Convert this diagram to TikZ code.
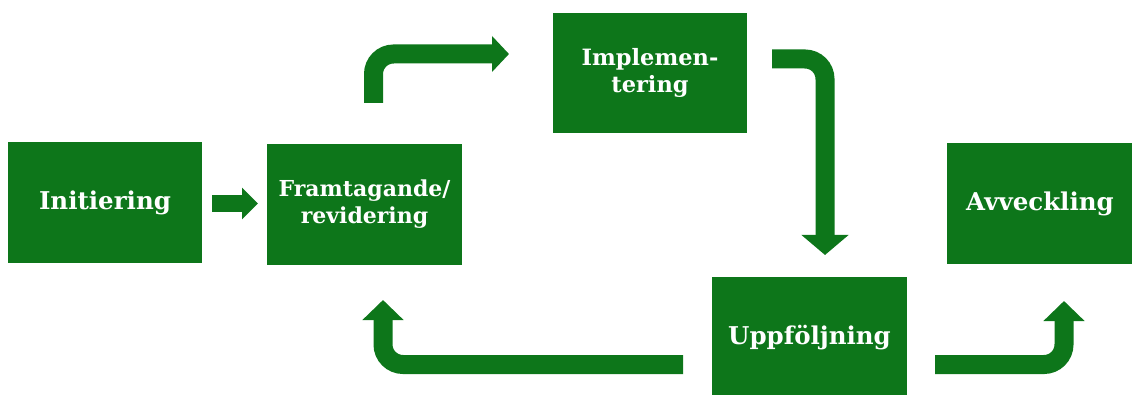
\documentclass[tikz,border=0pt]{standalone}
\usepackage{fontspec}
\setmainfont{DejaVu Serif}
\usetikzlibrary{arrows.meta,positioning,calc}
\definecolor{fgreen}{RGB}{13,118,26}
\begin{document}
\begin{tikzpicture}[x=1pt,y=-1pt]
  \tikzset{
    phase/.style={draw=none,fill=fgreen,rectangle,minimum width=195pt,minimum height=121pt,inner sep=0pt,outer sep=0pt,text=white,align=center,font=\fontsize{24.5}{28}\selectfont\bfseries},
    flow/.style={draw=fgreen,line width=19pt,rounded corners=20pt,-{Triangle[width=40pt,length=20pt]}}
  }
  \useasboundingbox (0,0) rectangle (1132,395);

%%%%%%%%%%%%%%%%%%%%%%%%%%
  \node[phase,minimum width=194pt] at (105,202.5) (Init) {Initiering};
  \node[phase,font=\fontsize{22}{27}\selectfont\bfseries] at (364.5,204.5) (Fram) {Framtagande/\\revidering};
  \node[phase,font=\fontsize{22.5}{27}\selectfont\bfseries,minimum width=194pt,minimum height=120pt] at (650,73) (Impl) {Implemen-\\tering};
  \node[phase] at (809.5,337.5) (Uppf) {Uppföljning};
  \node[phase,minimum width=186pt] at (1040,203.5) (Avv) {Avveckling};

%%%%%%%%%%%%%%%%%%%%%%%%%%
% FORWARD
\draw [flow,line width=17pt,-{Triangle[width=31pt,length=16pt]}] ($(Init.east)+(10,1)$) -- ($(Fram.west)+(-9,-1)$);
\draw [flow,-{Triangle[width=35pt,length=17pt]}] ($(Fram.north)+(9,-41)$) |- ($(Impl.west)+(-44,-19)$);
\draw [flow,-{Triangle[width=46pt,length=20pt]}] ($(Impl.east)+(25,-14)$) -| ($(Uppf.north)+(15.5,-22)$);

% BACK
\draw [flow] ($(Uppf.west)+(-29,27)$) -| ($(Fram.south)+(18.5,35)$);

% OUT
\draw [flow] ($(Uppf.east)+(28,27)$) -| ($(Avv.south)+(24,37)$);

\end{tikzpicture}
\end{document}
